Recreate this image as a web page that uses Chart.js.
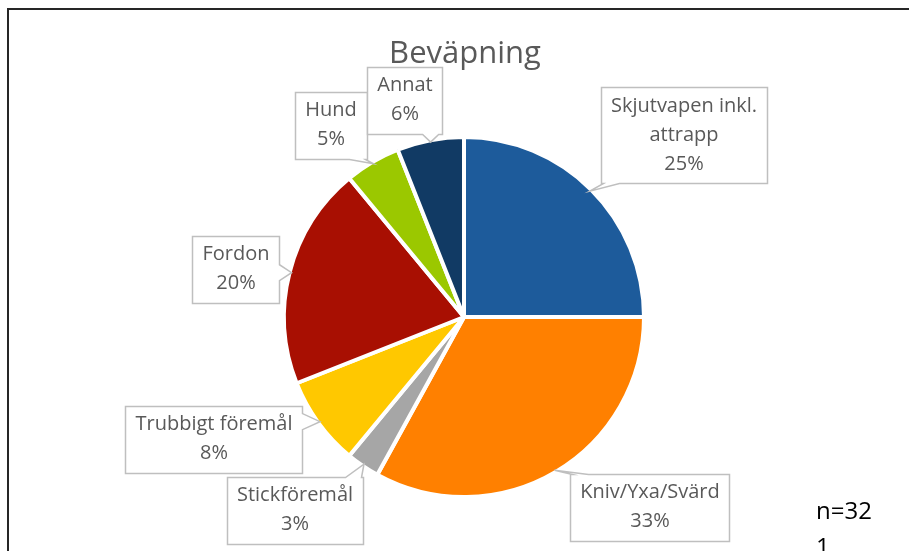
<!doctype html>
<html>
<head>
	<meta charset="utf-8">
	<script src="https://cdn.jsdelivr.net/npm/chart.js@4/dist/chart.umd.min.js"></script>
	<style>
	html, body { margin: 0; padding: 0; background: #fff; }
	#holder { width: 909px; height: 551px; position: relative; }
	</style>
</head>
<body>
	<div id="holder">
		<canvas id="chart-area"></canvas>
	</div>
	<script>
		// data
		var categories = ['Skjutvapen inkl. attrapp', 'Kniv/Yxa/Svärd', 'Stickföremål', 'Trubbigt föremål', 'Fordon', 'Hund', 'Annat'];
		var labelLines = [['Skjutvapen inkl.', 'attrapp'], ['Kniv/Yxa/Svärd'], ['Stickföremål'], ['Trubbigt föremål'], ['Fordon'], ['Hund'], ['Annat']];
		var shares = [25, 33, 3, 8, 20, 5, 6];
		var chartTitle = 'Beväpning';
		var noteLines = ['n=32', '1'];

		var sliceColors = ['#1d5b9b', '#ff8000', '#a6a6a6', '#ffc800', '#a80f02', '#9bc800', '#113a64'];

		// callout box centres relative to pie centre, and the edge the pointer leaves from
		var calloutLayout = [
			{dx: 220, dy: -182, side: 'bottom'},
			{dx: 186, dy: 190, side: 'top'},
			{dx: -169, dy: 193, side: 'top'},
			{dx: -250, dy: 122, side: 'right'},
			{dx: -228, dy: -48, side: 'right'},
			{dx: -133, dy: -192, side: 'bottom'},
			{dx: -59, dy: -217, side: 'bottom'}
		];

		var FONT = '"Open Sans", "Noto Sans", sans-serif';

		function calloutPath(ctx, x0, y0, x1, y1, tip, side) {
			var hw = 8;
			ctx.beginPath();
			ctx.moveTo(x0, y0);
			if (side === 'top') {
				var c = Math.min(Math.max(tip.x, x0 + hw + 2), x1 - hw - 2);
				ctx.lineTo(c - hw, y0); ctx.lineTo(tip.x, tip.y); ctx.lineTo(c + hw, y0);
			}
			ctx.lineTo(x1, y0);
			if (side === 'right') {
				var c2 = Math.min(Math.max(tip.y, y0 + hw + 2), y1 - hw - 2);
				ctx.lineTo(x1, c2 - hw); ctx.lineTo(tip.x, tip.y); ctx.lineTo(x1, c2 + hw);
			}
			ctx.lineTo(x1, y1);
			if (side === 'bottom') {
				var c3 = Math.min(Math.max(tip.x, x0 + hw + 2), x1 - hw - 2);
				ctx.lineTo(c3 + hw, y1); ctx.lineTo(tip.x, tip.y); ctx.lineTo(c3 - hw, y1);
			}
			ctx.lineTo(x0, y1);
			if (side === 'left') {
				var c4 = Math.min(Math.max(tip.y, y0 + hw + 2), y1 - hw - 2);
				ctx.lineTo(x0, c4 + hw); ctx.lineTo(tip.x, tip.y); ctx.lineTo(x0, c4 - hw);
			}
			ctx.closePath();
		}

		var decorPlugin = {
			id: 'decor',
			afterDraw: function(chart) {
				var ctx = chart.ctx;
				var meta = chart.getDatasetMeta(0);
				var total = shares.reduce(function(a, b) { return a + b; }, 0);
				ctx.save();

				// frame
				ctx.strokeStyle = '#262626';
				ctx.lineWidth = 2;
				ctx.beginPath();
				ctx.moveTo(8, 551);
				ctx.lineTo(8, 9);
				ctx.lineTo(909, 9);
				ctx.stroke();

				// title
				ctx.fillStyle = '#595959';
				ctx.font = '31px ' + FONT;
				ctx.textAlign = 'center';
				ctx.textBaseline = 'middle';
				ctx.fillText(chartTitle, 465, 54);

				// callouts
				ctx.font = '20px ' + FONT;
				meta.data.forEach(function(arc, i) {
					var p = arc.getProps(['x', 'y', 'startAngle', 'endAngle', 'outerRadius'], true);
					var mid = (p.startAngle + p.endAngle) / 2;
					var r = p.outerRadius - 2;
					var tip = {x: p.x + Math.cos(mid) * r, y: p.y + Math.sin(mid) * r};
					var lines = labelLines[i].concat([Math.round(shares[i] / total * 100) + '%']);
					var w = 0;
					lines.forEach(function(t) { w = Math.max(w, ctx.measureText(t).width); });
					w += 20;
					var lh = 29;
					var h = lines.length * lh + 9;
					var cx = p.x + calloutLayout[i].dx;
					var cy = p.y + calloutLayout[i].dy;
					var x0 = Math.round(cx - w / 2) + 0.5, y0 = Math.round(cy - h / 2) + 0.5;
					var x1 = x0 + Math.round(w), y1 = y0 + Math.round(h);
					calloutPath(ctx, x0, y0, x1, y1, tip, calloutLayout[i].side);
					ctx.fillStyle = '#ffffff';
					ctx.fill();
					ctx.strokeStyle = '#bfbfbf';
					ctx.lineWidth = 1.5;
					ctx.stroke();
					ctx.fillStyle = '#595959';
					lines.forEach(function(t, k) {
						ctx.fillText(t, cx, cy - (lines.length - 1) * lh / 2 + k * lh);
					});
				});

				// sample size note
				ctx.fillStyle = '#000000';
				ctx.font = '24px ' + FONT;
				ctx.textAlign = 'left';
				ctx.textBaseline = 'alphabetic';
				ctx.fillText(noteLines[0], 816, 519);
				ctx.fillText(noteLines[1], 816, 555);
				ctx.restore();
			}
		};

		var config = {
			type: 'pie',
			data: {
				labels: categories,
				datasets: [{
					data: shares,
					backgroundColor: sliceColors,
					borderColor: '#ffffff',
					borderWidth: 4
				}]
			},
			options: {
				responsive: true,
				maintainAspectRatio: false,
				animation: false,
				radius: 180,
				layout: {
					padding: {left: 100, right: 81, top: 100, bottom: 17}
				},
				plugins: {
					legend: {display: false},
					tooltip: {enabled: false},
					title: {display: false}
				}
			},
			plugins: [decorPlugin]
		};

		window.onload = function() {
			var ctx = document.getElementById('chart-area').getContext('2d');
			window.myPie = new Chart(ctx, config);
		};
	</script>
</body>
</html>
